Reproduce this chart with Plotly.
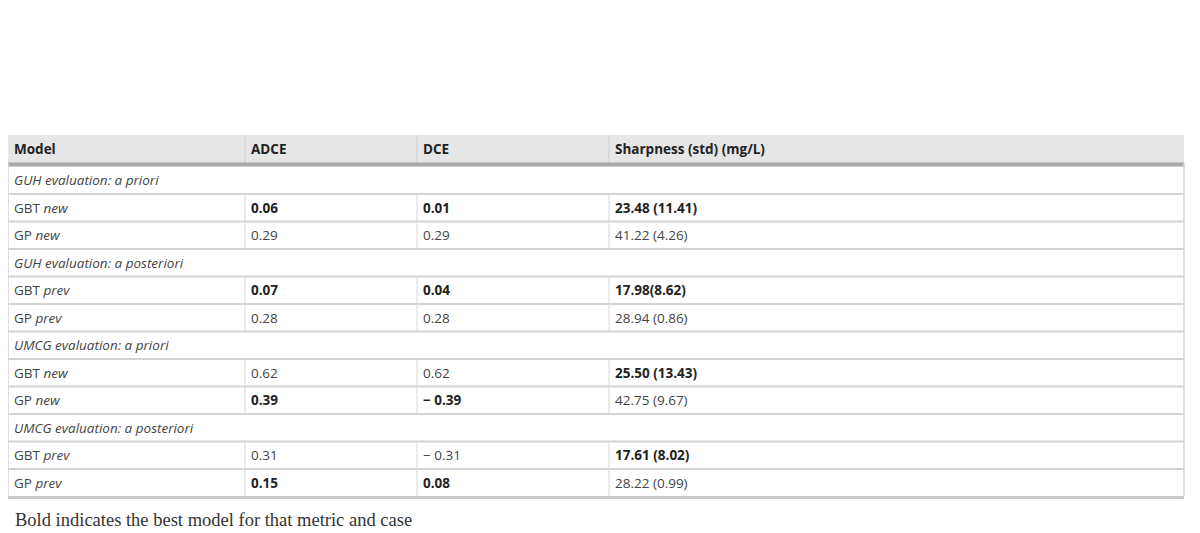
import plotly.graph_objects as go

title_lines = ["Table 6 Uncertainty quantification performance of the GBT models and the", "GP models"]
source_prefix = "From: "
source_link = "Development and evaluation of uncertainty quantifying machine learning models to predict piperacillin plasma concentrations in critically ill patients"
headers = ["Model", "ADCE", "DCE", "Sharpness (std) (mg/L)"]
sections = ["GUH evaluation: a priori", "GUH evaluation: a posteriori", "UMCG evaluation: a priori", "UMCG evaluation: a posteriori"]
models = [["GBT <i>new</i>", "GP <i>new</i>"], ["GBT <i>prev</i>", "GP <i>prev</i>"],
          ["GBT <i>new</i>", "GP <i>new</i>"], ["GBT <i>prev</i>", "GP <i>prev</i>"]]
adce = [["0.06", "0.29"], ["0.07", "0.28"], ["0.62", "0.39"], ["0.31", "0.15"]]
dce = [["0.01", "0.29"], ["0.04", "0.28"], ["0.62", "− 0.39"], ["− 0.31", "0.08"]]
sharp = [["23.48 (11.41)", "41.22 (4.26)"], ["17.98(8.62)", "28.94 (0.86)"],
         ["25.50 (13.43)", "42.75 (9.67)"], ["17.61 (8.02)", "28.22 (0.99)"]]
bold_adce = [[1, 0], [1, 0], [0, 1], [0, 1]]
bold_dce = [[1, 0], [1, 0], [0, 1], [0, 1]]
bold_sharp = [[1, 0], [1, 0], [1, 0], [1, 0]]
footnote = "Bold indicates the best model for that metric and case"

W, H = 1200, 533
OFF = 8  # page body margin
fig = go.Figure()
fig.update_layout(width=W, height=H, margin=dict(l=0, r=0, t=0, b=0),
                  paper_bgcolor="white", plot_bgcolor="white", showlegend=False,
                  xaxis=dict(range=[OFF, W + OFF], visible=False, fixedrange=True),
                  yaxis=dict(range=[H + OFF, OFF], visible=False, fixedrange=True))
ann, shp = [], []
def text(x, y, s, size=13.5, color="#333", family="Open Sans", xa="left"):
    ann.append(dict(x=x, y=y, text=s, showarrow=False, xanchor=xa, yanchor="middle", borderpad=0,
                    font=dict(size=size, color=color, family=family), xref="x", yref="y"))
def line(x0, y0, x1, y1, color="#d4d4d4", w=1):
    shp.append(dict(type="line", x0=x0, y0=y0, x1=x1, y1=y1, line=dict(color=color, width=w), xref="x", yref="y", layer="above"))

text(4, 22, "<b>" + title_lines[0] + "</b>", size=31, color="#222c44", family="Open Sans")
text(4, 70, "<b>" + title_lines[1] + "</b>", size=31, color="#222c44", family="Open Sans")
text(4, 119, source_prefix + "<span style='color:#8c1f4e'><u>" + source_link + "</u></span>", size=18.5,
     color="#333", family="Liberation Serif")

L, R = 8, 1184
cols = [L, 245, 417, 609]
top, hh, rh = 135, 28, 27.5
shp.append(dict(type="rect", x0=L, x1=R, y0=top, y1=top + hh, fillcolor="#e6e6e6", line=dict(width=0), xref="x", yref="y", layer="below"))
for i, h in enumerate(headers):
    text(cols[i] + 5, top + hh / 2, "<b>" + h + "</b>", color="#222")
    if i:
        line(cols[i], top, cols[i], top + hh, "#cfcfcf")
line(L, top + hh + 1.5, R, top + hh + 1.5, "#a8a8a8", 4)

y = top + hh + 3.5
for s in range(4):
    text(cols[0] + 5, y + rh / 2, "<i>" + sections[s] + "</i>", color="#444")
    y += rh
    line(L, y, R, y, "#d4d4d4", 2)
    for r in range(2):
        vals = [models[s][r], adce[s][r], dce[s][r], sharp[s][r]]
        bolds = [0, bold_adce[s][r], bold_dce[s][r], bold_sharp[s][r]]
        for c in range(4):
            v = "<b>" + vals[c] + "</b>" if bolds[c] else vals[c]
            text(cols[c] + 5, y + rh / 2, v, color="#222" if bolds[c] else "#444")
            if c:
                line(cols[c], y, cols[c], y + rh, "#d8d8d8")
        y += rh
        if not (s == 3 and r == 1):
            line(L, y, R, y, "#d4d4d4", 2)
line(L, y + 1, R, y + 1, "#c8c8c8", 3)
line(L, top + hh, L, y, "#d4d4d4", 1.5)
line(R, top + hh, R, y, "#d4d4d4", 1.5)
text(14, 520, footnote, size=18.5, color="#333", family="Liberation Serif")

fig.update_layout(annotations=ann, shapes=shp)
fig.write_html("out.html")
